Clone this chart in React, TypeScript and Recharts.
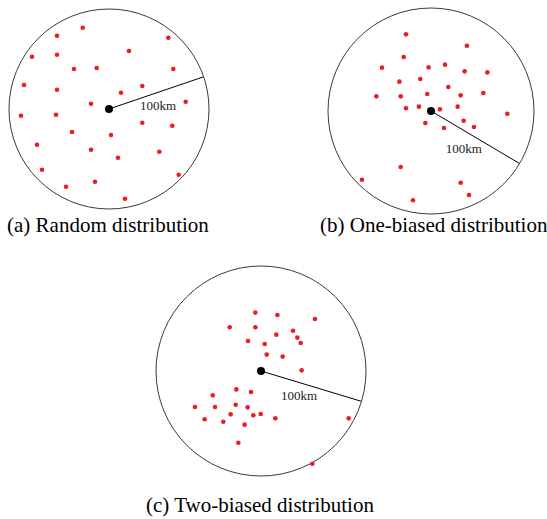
import { ScatterChart, Scatter, XAxis, YAxis, ReferenceDot, ReferenceLine } from 'recharts'

type Pt = { x: number; y: number }

// sensor positions in km, relative to the sink (0,0), field radius 100km
const randomPoints: Pt[] = [
  { x: -26.3, y: 81.3 }, { x: -52, y: 73.3 }, { x: 59.3, y: 71.3 }, { x: 20, y: 58 },
  { x: -77, y: 52.3 }, { x: -52, y: 54.3 }, { x: -35, y: 40 }, { x: -12.3, y: 41 },
  { x: 64.3, y: 40 }, { x: -85, y: 24 }, { x: -52, y: 19.3 }, { x: 12, y: 16.3 },
  { x: 33.3, y: 23 }, { x: 76.7, y: 7.3 }, { x: -18, y: 5.3 }, { x: -88, y: -6.7 },
  { x: -53, y: -5.7 }, { x: 33.3, y: -13.7 }, { x: 63.3, y: -16.7 }, { x: -37, y: -23 },
  { x: 2, y: -26 }, { x: -72, y: -35.7 }, { x: -18, y: -40.7 }, { x: 9, y: -48.7 },
  { x: 50.3, y: -42.7 }, { x: -67, y: -60.7 }, { x: 69.7, y: -65.7 }, { x: -43, y: -77.7 },
  { x: -14, y: -72.7 }, { x: 16, y: -89.7 },
]

const oneBiasedPoints: Pt[] = [
  { x: -24.3, y: 74.4 }, { x: 34.9, y: 63.4 }, { x: -26.5, y: 52.4 }, { x: -47.6, y: 42.1 },
  { x: -2.3, y: 42.4 }, { x: 13.6, y: 45 }, { x: 32.7, y: 38.5 }, { x: 54.7, y: 37.5 },
  { x: -30.7, y: 28.5 }, { x: -10.4, y: 31.1 }, { x: 16.8, y: 23.3 }, { x: -53.1, y: 14.2 },
  { x: -29.4, y: 14.2 }, { x: -3.6, y: 16.5 }, { x: 28.8, y: 15.2 }, { x: 50.8, y: 17.5 },
  { x: -24.3, y: 2.6 }, { x: -11.7, y: 4.2 }, { x: 8.7, y: 1.6 }, { x: 25.9, y: 4.2 },
  { x: 74.1, y: -2.6 }, { x: -5.5, y: -11.7 }, { x: 12.6, y: -16.5 }, { x: 31.7, y: -9.4 },
  { x: 41.7, y: -15.5 }, { x: -29.4, y: -54.4 }, { x: -67, y: -66.7 }, { x: 28.8, y: -69.6 },
  { x: 36.9, y: -81.5 }, { x: -17.5, y: -86.7 },
]

const twoBiasedPoints: Pt[] = [
  { x: -5.4, y: 55.6 }, { x: 15.6, y: 53.3 }, { x: 51.4, y: 49.5 }, { x: -29.8, y: 41.6 },
  { x: -5.4, y: 41.6 }, { x: 30.5, y: 38.4 }, { x: 14.6, y: 34.6 }, { x: 34.6, y: 31.8 },
  { x: 37.8, y: 26.7 }, { x: -12.4, y: 28.6 }, { x: 3.5, y: 25.7 }, { x: 5.4, y: 15.6 },
  { x: 20.6, y: 13.7 }, { x: 38.7, y: 0.6 }, { x: -23.5, y: -17.5 }, { x: -9.5, y: -20 },
  { x: -46, y: -23.2 }, { x: -62.9, y: -34.3 }, { x: -43.8, y: -34.3 }, { x: -24.1, y: -32.1 },
  { x: -12.7, y: -34.6 }, { x: -28.9, y: -41.3 }, { x: -7.3, y: -42.2 }, { x: -0.3, y: -41 },
  { x: 13.7, y: -45.1 }, { x: -53.7, y: -46 }, { x: -35.9, y: -48.3 }, { x: -15.6, y: -51.1 },
  { x: -21.6, y: -68.3 }, { x: 83.5, y: -45.1 }, { x: 48.9, y: -88.3 },
]

// end point of the radius line and where "100km" sits
const radiusEnds: Pt[] = [{ x: 94, y: 32 }, { x: 86, y: -51 }, { x: 95.7, y: -28.9 }]
const labelSpots: Pt[] = [{ x: 31, y: -0.5 }, { x: 14.3, y: -41 }, { x: 19, y: -27.5 }]
const captions = ['(a) Random distribution', '(b) One-biased distribution', '(c) Two-biased distribution']

const RANGE = 100
const PAD = 2

const RedDot = (props: any) => <circle cx={props.cx} cy={props.cy} r={2.3} fill="#ec1c24" />

type PanelProps = {
  data: Pt[]
  radiusPx: number
  end: Pt
  label: Pt
  left: number
  top: number
}

function Panel({ data, radiusPx, end, label, left, top }: PanelProps) {
  const size = radiusPx * 2 + PAD * 2
  return (
    <div style={{ position: 'absolute', left, top }}>
      <ScatterChart width={size} height={size} margin={{ top: PAD, right: PAD, bottom: PAD, left: PAD }}>
        <XAxis type="number" dataKey="x" domain={[-RANGE, RANGE]} hide />
        <YAxis type="number" dataKey="y" domain={[-RANGE, RANGE]} hide />
        <ReferenceDot x={0} y={0} r={radiusPx} fill="none" stroke="#3a3a3a" strokeWidth={1} />
        <ReferenceLine segment={[{ x: 0, y: 0 }, end]} stroke="#000" strokeWidth={1} />
        <Scatter data={data} shape={RedDot} isAnimationActive={false} />
        <ReferenceDot x={0} y={0} r={4} fill="#000" stroke="none" />
        <ReferenceDot
          x={label.x}
          y={label.y}
          r={0}
          shape={(p: any) => (
            <text x={p.cx} y={p.cy} fontFamily="Liberation Serif" fontSize={13} fill="#222">
              100km
            </text>
          )}
        />
      </ScatterChart>
    </div>
  )
}

const captionStyle = {
  position: 'absolute' as const,
  fontFamily: '"Liberation Serif", serif',
  fontSize: 21,
  lineHeight: '21px',
  color: '#000',
  whiteSpace: 'nowrap' as const,
}

export default function App() {
  return (
    <div style={{ position: 'absolute', left: 0, top: 0, width: 547, height: 519, background: '#fff' }}>
      <Panel data={randomPoints} radiusPx={100} end={radiusEnds[0]} label={labelSpots[0]} left={109 - 100 - PAD} top={109 - 100 - PAD} />
      <Panel data={oneBiasedPoints} radiusPx={103} end={radiusEnds[1]} label={labelSpots[1]} left={431 - 103 - PAD} top={111 - 103 - PAD} />
      <Panel data={twoBiasedPoints} radiusPx={105} end={radiusEnds[2]} label={labelSpots[2]} left={261 - 105 - PAD} top={371 - 105 - PAD} />
      <div style={{ ...captionStyle, left: 7, top: 215 }}>{captions[0]}</div>
      <div style={{ ...captionStyle, left: 320, top: 215 }}>{captions[1]}</div>
      <div style={{ ...captionStyle, left: 146, top: 495 }}>{captions[2]}</div>
    </div>
  )
}
